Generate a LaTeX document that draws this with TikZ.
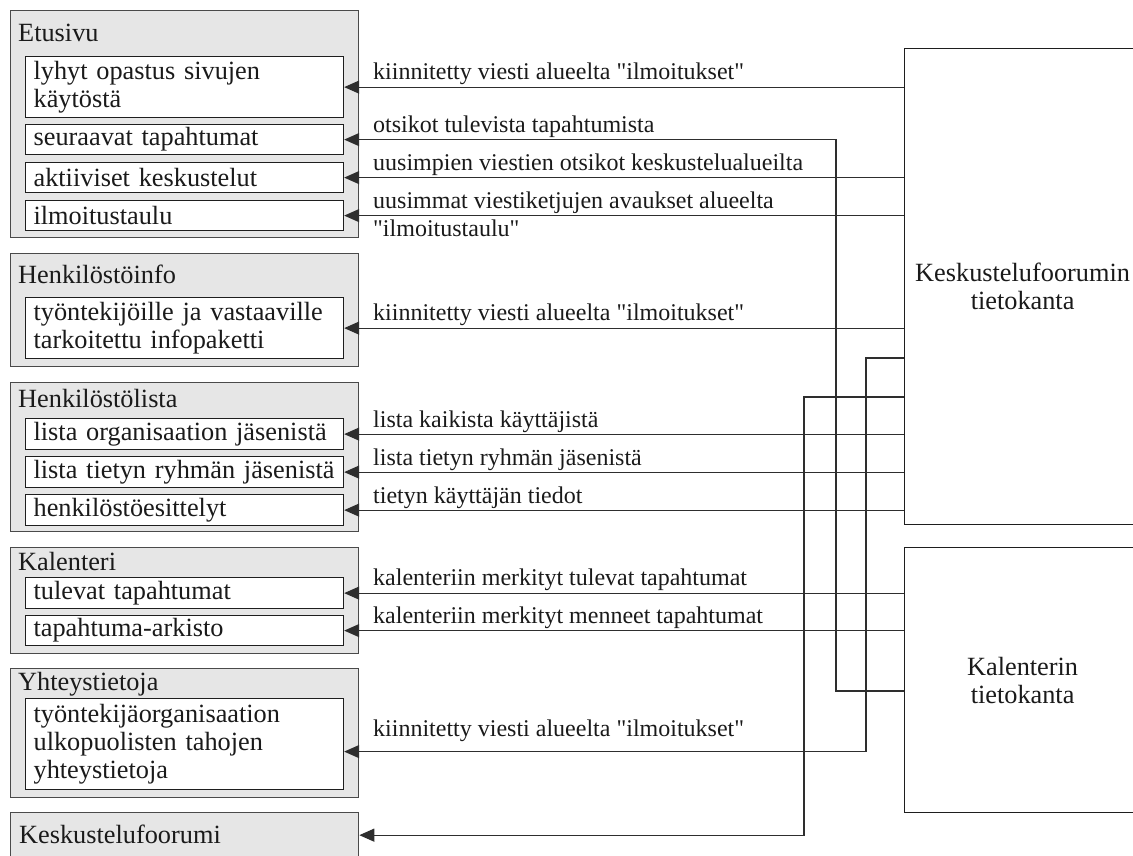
\documentclass[tikz,border=0pt]{standalone}
\usepackage{fontspec}
\setmainfont{Liberation Serif}[Ligatures=TeXOff]
\usetikzlibrary{arrows.meta}
\definecolor{grpfill}{HTML}{E6E6E6}
\definecolor{grpline}{HTML}{4A4A4A}
\definecolor{itemline}{HTML}{1E1E1E}
\definecolor{wire}{HTML}{2E2E2E}
\definecolor{ink}{HTML}{1A1A1A}
\newcommand{\boxtxt}{\fontsize{26.3pt}{28pt}\selectfont}
\newcommand{\lbltxt}{\fontsize{24pt}{28pt}\selectfont}
\begin{document}
\begin{tikzpicture}[x=1pt,y=-1pt,
  group/.style={rectangle, draw=grpline, fill=grpfill, line width=1.3pt,
    anchor=north west, minimum width=348pt, inner sep=0pt},
  grptitle/.style={anchor=base west, inner sep=0pt, font=\boxtxt, text=ink},
  item/.style={rectangle, draw=itemline, fill=white, line width=1.2pt,
    anchor=north west, minimum width=318pt, text width=302pt,
    inner xsep=8pt, inner ysep=0pt, align=left, font=\boxtxt, text=ink},
  dbbox/.style={rectangle, draw=itemline, fill=white, line width=1.2pt,
    anchor=north west, minimum width=236pt, align=center, font=\boxtxt,
    text=ink},
  lbl/.style={anchor=base west, inner sep=0pt, font=\lbltxt, text=ink},
  wire/.style={draw=wire, line width=1.2pt},
  arr/.style={wire, -{Triangle[length=15pt,width=13pt]}}
]
\useasboundingbox (0,0) rectangle (1133,855);

% page groups on the left
\node[group, minimum height=227pt] (g1) at (10,10) {};
\node[grptitle] (g1t) at (18,41) {Etusivu};
\node[item, minimum height=61pt] (e1) at (25,56) {lyhyt opastus sivujen\\käytöstä};
\node[item, minimum height=30pt] (e2) at (25,124) {seuraavat tapahtumat};
\node[item, minimum height=30pt] (e3) at (25,162) {aktiiviset keskustelut};
\node[item, minimum height=30pt] (e4) at (25,200) {ilmoitustaulu};

\node[group, minimum height=113pt] (g2) at (10,253) {};
\node[grptitle] (g2t) at (18,283) {Henkilöstöinfo};
\node[item, minimum height=61pt] (h1) at (25,297) {työntekijöille ja vastaaville\\tarkoitettu infopaketti};

\node[group, minimum height=149pt] (g3) at (10,382) {};
\node[grptitle] (g3t) at (18,407) {Henkilöstölista};
\node[item, minimum height=31pt] (p1) at (25,418) {lista~organisaation~jäsenistä};
\node[item, minimum height=31pt] (p2) at (25,456) {lista~tietyn~ryhmän~jäsenistä};
\node[item, minimum height=31pt] (p3) at (25,494) {henkilöstöesittelyt};

\node[group, minimum height=106pt] (g4) at (10,547) {};
\node[grptitle] (g4t) at (18,570) {Kalenteri};
\node[item, minimum height=31pt] (k1) at (25,577) {tulevat tapahtumat};
\node[item, minimum height=30pt] (k2) at (25,615) {tapahtuma-arkisto};

\node[group, minimum height=129pt] (g5) at (10,668) {};
\node[grptitle] (g5t) at (18,690) {Yhteystietoja};
\node[item, minimum height=91pt] (y1) at (25,698) {työntekijäorganisaation\\ulkopuolisten tahojen\\yhteystietoja};

\node[group, minimum height=45pt] (g6) at (10,812) {};
\node[grptitle] (g6t) at (19,843) {Keskustelufoorumi};

% databases on the right
\node[dbbox, minimum height=476pt] (kdb) at (904,48) {Keskustelufoorumin\\tietokanta};
\node[dbbox, minimum height=265pt] (kaldb) at (904,547) {Kalenterin\\tietokanta};

% bend points of the routed connectors
\coordinate (b1) at (836,691);
\coordinate (b2) at (866,358);
\coordinate (b3) at (804,397);

% data flows
\draw[arr] (e1.east -| kdb.west) -- (e1.east);
\draw[arr] (b1 -| kaldb.west) -- (b1) |- (e2.east);
\draw[arr] (e3.east -| kdb.west) -- (e3.east);
\draw[arr] (e4.east -| kdb.west) -- (e4.east);
\draw[arr] (h1.east -| kdb.west) -- (h1.east);
\draw[arr] (b2 -| kdb.west) -- (b2) |- ([yshift=-7.5pt]y1.east);
\draw[arr] (b3 -| kdb.west) -- (b3) |- (g6.east);
\draw[arr] (p1.east -| kdb.west) -- (p1.east);
\draw[arr] (p2.east -| kdb.west) -- (p2.east);
\draw[arr] (p3.east -| kdb.west) -- (p3.east);
\draw[arr] (k1.east -| kaldb.west) -- (k1.east);
\draw[arr] (k2.east -| kaldb.west) -- (k2.east);

% flow labels
\node[lbl] (l1) at (373,79.5) {kiinnitetty viesti alueelta "ilmoitukset"};
\node[lbl] (l2) at (373,132) {otsikot tulevista tapahtumista};
\node[lbl] (l3) at (373,170) {uusimpien viestien otsikot keskustelualueilta};
\node[lbl] (l4) at (373,208) {uusimmat viestiketjujen avaukset alueelta};
\node[lbl] (l4b) at (373,236) {"ilmoitustaulu"};
\node[lbl] (l5) at (373,320.5) {kiinnitetty viesti alueelta "ilmoitukset"};
\node[lbl] (l6) at (373,427) {lista kaikista käyttäjistä};
\node[lbl] (l7) at (373,465) {lista tietyn ryhmän jäsenistä};
\node[lbl] (l8) at (373,503) {tietyn käyttäjän tiedot};
\node[lbl] (l9) at (373,585.5) {kalenteriin merkityt tulevat tapahtumat};
\node[lbl] (l10) at (373,623) {kalenteriin merkityt menneet tapahtumat};
\node[lbl] (l11) at (373,736) {kiinnitetty viesti alueelta "ilmoitukset"};
\end{tikzpicture}
\end{document}
